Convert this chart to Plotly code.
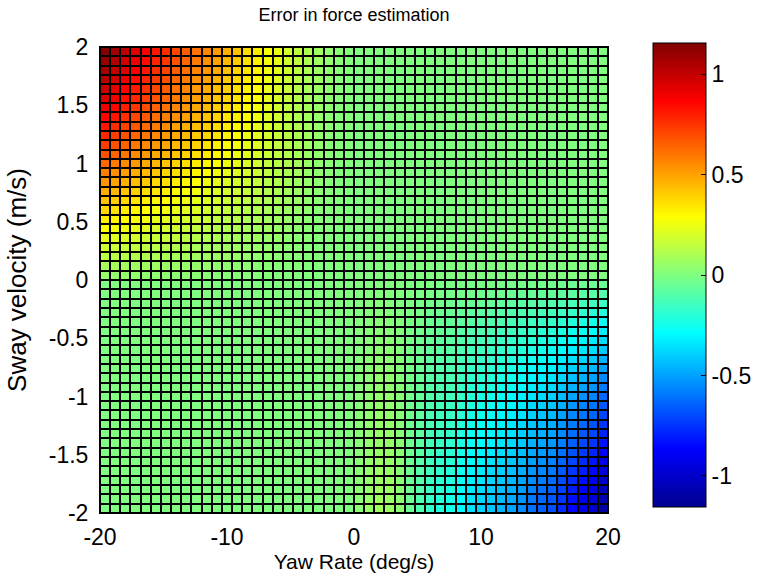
import plotly.graph_objects as go

# Grid edges (MATLAB surf grid, 51 x 51 points -> 50 x 50 faces)
yaw_edges = [-20, -19.2, -18.4, -17.6, -16.8, -16, -15.2, -14.4, -13.6, -12.8,
             -12, -11.2, -10.4, -9.6, -8.8, -8, -7.2, -6.4, -5.6, -4.8,
             -4, -3.2, -2.4, -1.6, -0.8, 0, 0.8, 1.6, 2.4, 3.2,
             4, 4.8, 5.6, 6.4, 7.2, 8, 8.8, 9.6, 10.4, 11.2,
             12, 12.8, 13.6, 14.4, 15.2, 16, 16.8, 17.6, 18.4, 19.2, 20]
sway_edges = [-2, -1.92, -1.84, -1.76, -1.68, -1.6, -1.52, -1.44, -1.36, -1.28,
              -1.2, -1.12, -1.04, -0.96, -0.88, -0.8, -0.72, -0.64, -0.56, -0.48,
              -0.4, -0.32, -0.24, -0.16, -0.08, 0, 0.08, 0.16, 0.24, 0.32,
              0.4, 0.48, 0.56, 0.64, 0.72, 0.8, 0.88, 0.96, 1.04, 1.12,
              1.2, 1.28, 1.36, 1.44, 1.52, 1.6, 1.68, 1.76, 1.84, 1.92, 2]

# Error read along the top row (sway = 2), yaw from -20 to 0
top_row_tl = [1.15, 1.08, 1.01, 0.94, 0.88, 0.82, 0.77, 0.71, 0.66, 0.61,
              0.56, 0.51, 0.46, 0.42, 0.37, 0.33, 0.28, 0.24, 0.19, 0.15,
              0.11, 0.07, 0.04, 0.02, 0.01]
# Error read along the left column (yaw = -20), sway from 2 down to 0
left_col_tl = [1.15, 1.11, 1.07, 1.03, 0.99, 0.95, 0.91, 0.87, 0.82, 0.78,
               0.73, 0.68, 0.63, 0.58, 0.53, 0.48, 0.43, 0.38, 0.33, 0.28,
               0.23, 0.18, 0.14, 0.09, 0.05]
# Error read along the bottom row (sway = -2), yaw from 0 to 20
bottom_row_br = [0.03, 0.06, 0.08, 0.07, 0.03, -0.05, -0.11, -0.17, -0.21, -0.24,
                 -0.30, -0.36, -0.39, -0.42, -0.46, -0.50, -0.55, -0.61, -0.65, -0.69,
                 -0.77, -0.86, -0.93, -0.99, -1.10]
# Error read along the right column (yaw = 20), sway from -2 up to 0
right_col_br = [-1.10, -1.07, -1.03, -0.99, -0.95, -0.91, -0.87, -0.83, -0.79, -0.75,
                -0.71, -0.67, -0.63, -0.59, -0.55, -0.50, -0.46, -0.41, -0.37, -0.32,
                -0.27, -0.22, -0.16, -0.10, -0.05]

x_ticks = [-20, -10, 0, 10, 20]
y_ticks = [-2, -1.5, -1, -0.5, 0, 0.5, 1, 1.5, 2]
y_tick_text = ["-2", "-1.5", "-1", "-0.5", "0", "0.5", "1", "1.5", "2"]
cbar_ticks = [-1, -0.5, 0, 0.5, 1]
cbar_text = ["-1", "-0.5", "0", "0.5", "1"]
clim = 1.155

n = 25
# table (rows bottom->top, cols left->right) built from the read profiles
z = [[0.0] * (2 * n) for _ in range(2 * n)]
for r in range(n):
    row = 2 * n - 1 - r  # top rows
    for j in range(n):
        z[row][j] = round(top_row_tl[j] * left_col_tl[r] / top_row_tl[0], 3)
for i in range(n):
    for j in range(n):
        z[i][n + j] = round(bottom_row_br[j] * right_col_br[i] / right_col_br[0], 3)

jet = [[0.0, "rgb(0,0,143)"], [0.125, "rgb(0,0,255)"], [0.375, "rgb(0,255,255)"],
       [0.625, "rgb(255,255,0)"], [0.875, "rgb(255,0,0)"], [1.0, "rgb(128,0,0)"]]

FONT = "Liberation Sans, Arial, sans-serif"
TICK = dict(family=FONT, size=23, color="black")

fig = go.Figure(go.Heatmap(
    x=yaw_edges, y=sway_edges, z=z,
    colorscale=jet, zmin=-clim, zmax=clim,
    xgap=2, ygap=2,
    colorbar=dict(
        x=1.0886, xanchor="left", xref="paper",
        y=0.5107, yanchor="middle", len=0.996, lenmode="fraction",
        thickness=53, thicknessmode="pixels",
        outlinecolor="black", outlinewidth=1,
        tickvals=cbar_ticks, ticktext=cbar_text,
        ticks="inside", ticklen=5, tickcolor="black",
        tickfont=TICK,
        ypad=0, xpad=0,
    ),
))

fig.update_layout(
    width=757, height=578,
    margin=dict(l=100, r=149, t=47, b=65, autoexpand=False),
    paper_bgcolor="white", plot_bgcolor="black",
    title=dict(text="Error in force estimation", x=0.5, xref="paper", xanchor="center",
               y=1 - 15 / 578, yref="container", yanchor="middle",
               font=dict(family=FONT, size=18, color="black")),
    xaxis=dict(range=[-20, 20], tickvals=x_ticks, ticktext=[str(v) for v in x_ticks],
               showgrid=False, zeroline=False, showline=True, mirror=True,
               linecolor="black", linewidth=1, ticks="", ticklabelstandoff=3,
               tickfont=TICK,
               title=dict(text="Yaw Rate (deg/s)", standoff=4,
                          font=dict(family=FONT, size=21, color="black"))),
    yaxis=dict(range=[-2, 2], tickvals=y_ticks, ticktext=y_tick_text,
               showgrid=False, zeroline=False, showline=True, mirror=True,
               linecolor="black", linewidth=1, ticks="", ticklabelstandoff=6,
               tickfont=TICK,
               title=dict(text="Sway velocity (m/s)", standoff=14,
                          font=dict(family=FONT, size=26, color="black"))),
)

fig.write_html("out.html", config={"displayModeBar": False},
               post_script="document.body.style.margin='0';")
